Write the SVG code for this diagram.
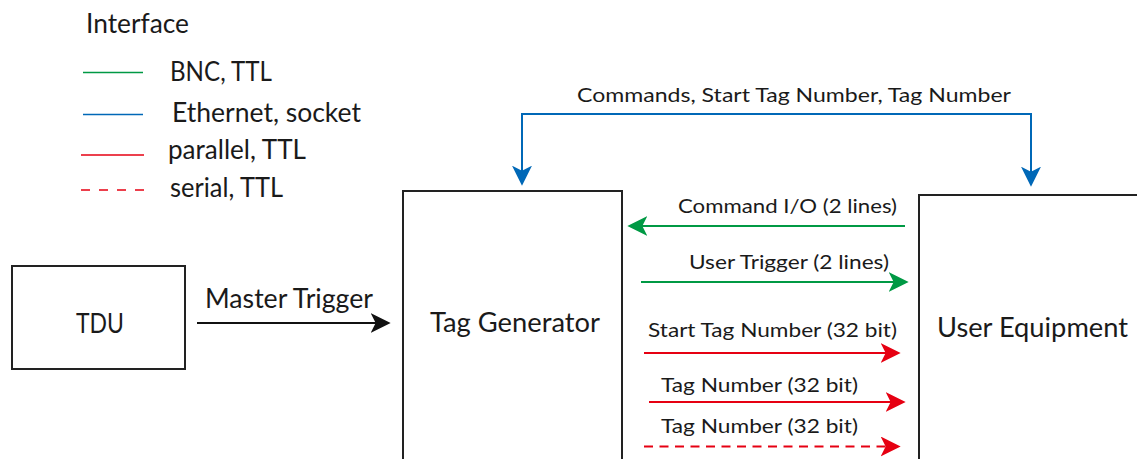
<svg xmlns="http://www.w3.org/2000/svg" width="1137" height="459" viewBox="0 0 1137 459">
  <style>
    text { font-family: Lato, "Open Sans", "Noto Sans", sans-serif; fill: #1a1a1a; }
    .big { font-size: 27px; }
    .small { font-size: 20px; }
    .box { fill: #ffffff; stroke: #222222; stroke-width: 2; }
    .wire { fill: none; stroke-width: 2; }
    .leg { fill: none; stroke-width: 1.6; }
    .k { stroke: #111111; }
    .g { stroke: #009944; }
    .b { stroke: #0068b7; }
    .r { stroke: #e60012; }
    .dash { stroke-dasharray: 9 6.5; }
    .legdash { stroke-dasharray: 9 9; }
  </style>
  <defs>
    <!-- notched arrowheads, tip sits 6px past the line end -->
    <marker id="ah-k" markerUnits="userSpaceOnUse" markerWidth="20" markerHeight="20" viewBox="0 0 18 18" refX="12" refY="9" orient="auto-start-reverse">
      <path d="M0,0 L18,9 L0,18 L4.5,9 Z" fill="#111111"/>
    </marker>
    <marker id="ah-g" markerUnits="userSpaceOnUse" markerWidth="20" markerHeight="20" viewBox="0 0 18 18" refX="12" refY="9" orient="auto-start-reverse">
      <path d="M0,0 L18,9 L0,18 L4.5,9 Z" fill="#009944"/>
    </marker>
    <marker id="ah-b" markerUnits="userSpaceOnUse" markerWidth="20" markerHeight="20" viewBox="0 0 18 18" refX="12" refY="9" orient="auto-start-reverse">
      <path d="M0,0 L18,9 L0,18 L4.5,9 Z" fill="#0068b7"/>
    </marker>
    <marker id="ah-r" markerUnits="userSpaceOnUse" markerWidth="20" markerHeight="20" viewBox="0 0 18 18" refX="12" refY="9" orient="auto-start-reverse">
      <path d="M0,0 L18,9 L0,18 L4.5,9 Z" fill="#e60012"/>
    </marker>
  </defs>

  <rect width="1137" height="459" fill="#ffffff"/>

  <!-- legend -->
  <g id="legend">
    <text class="big" x="86" y="33" textLength="103" lengthAdjust="spacingAndGlyphs">Interface</text>
    <line class="leg g" x1="83" y1="72.5" x2="143" y2="72.5"/>
    <text class="big" x="170" y="81" textLength="102" lengthAdjust="spacingAndGlyphs">BNC, TTL</text>
    <line class="leg b" x1="83" y1="114.5" x2="143" y2="114.5"/>
    <text class="big" x="172" y="121.5" textLength="189" lengthAdjust="spacingAndGlyphs">Ethernet, socket</text>
    <line class="leg r" x1="81" y1="155" x2="144" y2="155"/>
    <text class="big" x="168" y="159" textLength="138" lengthAdjust="spacingAndGlyphs">parallel, TTL</text>
    <line class="leg r legdash" x1="81" y1="190" x2="144" y2="190"/>
    <text class="big" x="170" y="196.5" textLength="113" lengthAdjust="spacingAndGlyphs">serial, TTL</text>
  </g>

  <!-- nodes -->
  <g id="tdu">
    <rect class="box" x="12" y="266" width="173" height="103"/>
    <text class="big" x="76" y="333" textLength="48" lengthAdjust="spacingAndGlyphs">TDU</text>
  </g>
  <g id="tag-generator">
    <rect class="box" x="403" y="191" width="219" height="290"/>
    <text class="big" x="430" y="332" textLength="170" lengthAdjust="spacingAndGlyphs">Tag Generator</text>
  </g>
  <g id="user-equipment">
    <rect class="box" x="919" y="195" width="240" height="290"/>
    <text class="big" x="937" y="336.5" textLength="191" lengthAdjust="spacingAndGlyphs">User Equipment</text>
  </g>

  <!-- connectors -->
  <g id="connectors">
    <line class="wire k" x1="197" y1="323" x2="384" y2="323" marker-end="url(#ah-k)"/>
    <path class="wire b" d="M522,179 V114 H1031 V180" marker-start="url(#ah-b)" marker-end="url(#ah-b)"/>
    <line class="wire g" x1="905" y1="226" x2="634" y2="226" marker-end="url(#ah-g)"/>
    <line class="wire g" x1="641" y1="282" x2="902" y2="282" marker-end="url(#ah-g)"/>
    <line class="wire r" x1="644" y1="353" x2="894" y2="353" marker-end="url(#ah-r)"/>
    <line class="wire r" x1="649" y1="402" x2="899" y2="402" marker-end="url(#ah-r)"/>
    <line class="wire r dash" x1="644" y1="446.5" x2="894" y2="446.5" marker-end="url(#ah-r)"/>
  </g>

  <!-- connector labels -->
  <g id="labels">
    <text class="big" x="205" y="308" textLength="168" lengthAdjust="spacingAndGlyphs">Master Trigger</text>
    <text class="small" x="577" y="102" textLength="434" lengthAdjust="spacingAndGlyphs">Commands, Start Tag Number, Tag Number</text>
    <text class="small" x="678" y="212.5" textLength="219" lengthAdjust="spacingAndGlyphs">Command I/O (2 lines)</text>
    <text class="small" x="689" y="268.5" textLength="200" lengthAdjust="spacingAndGlyphs">User Trigger (2 lines)</text>
    <text class="small" x="648" y="337" textLength="249" lengthAdjust="spacingAndGlyphs">Start Tag Number (32 bit)</text>
    <text class="small" x="661" y="391.5" textLength="197" lengthAdjust="spacingAndGlyphs">Tag Number (32 bit)</text>
    <text class="small" x="661" y="433" textLength="197" lengthAdjust="spacingAndGlyphs">Tag Number (32 bit)</text>
  </g>
</svg>
